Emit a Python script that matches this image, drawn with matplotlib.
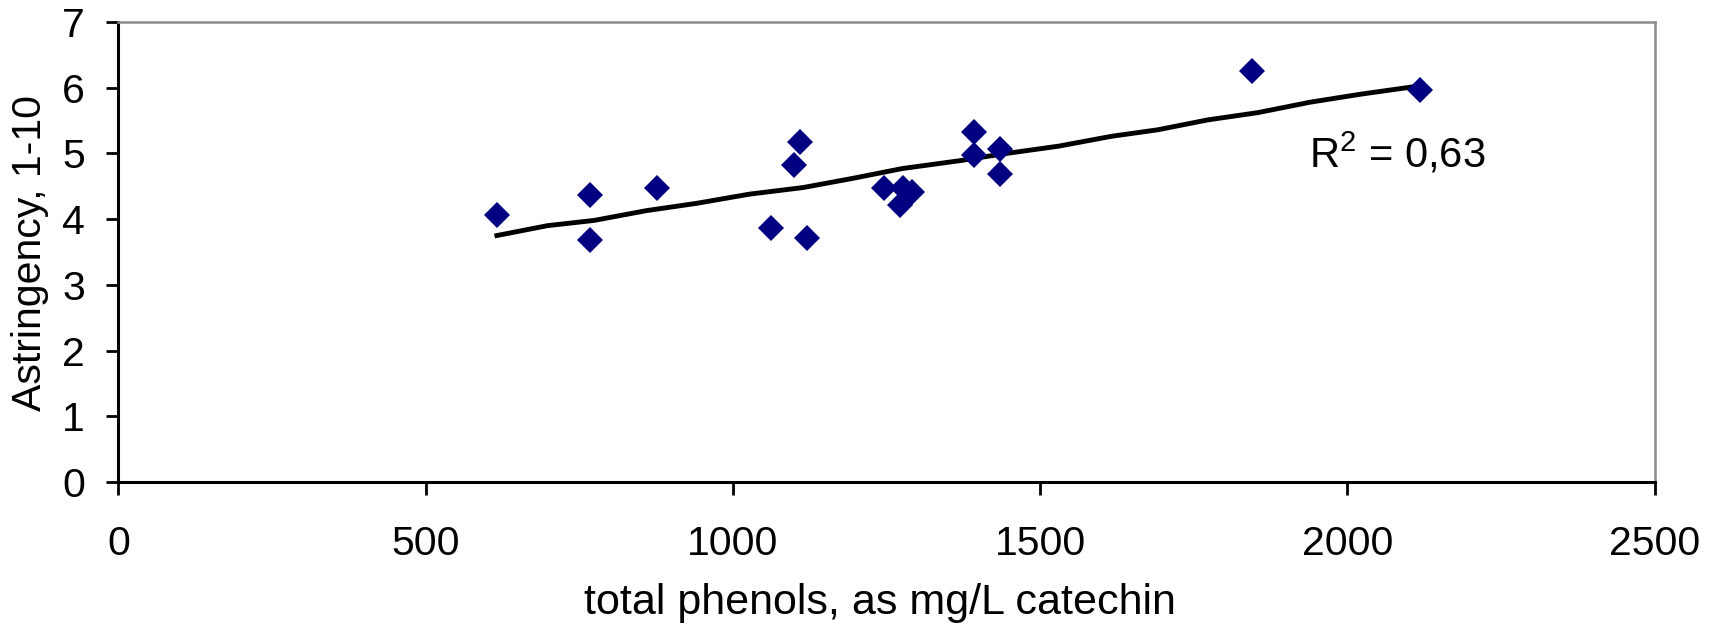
import matplotlib
matplotlib.use("Agg")
import matplotlib.pyplot as plt

# total phenols (mg/L catechin) and astringency scores
phenols = [616, 768, 768, 877, 1062, 1099, 1110, 1120, 1246, 1277,
           1292, 1272, 1392, 1392, 1434, 1434, 1845, 2118]
astringency = [4.07, 4.37, 3.68, 4.48, 3.87, 4.83, 5.17, 3.72, 4.48, 4.48,
               4.42, 4.21, 5.32, 4.97, 5.06, 4.68, 6.26, 5.96]

# hand-drawn looking trend line vertices
trend_x = [616, 698, 774, 860, 941, 1027, 1114, 1195, 1276, 1370,
           1438, 1530, 1616, 1692, 1773, 1854, 1940, 2021, 2112]
trend_y = [3.75, 3.90, 3.98, 4.13, 4.24, 4.38, 4.48, 4.62, 4.77, 4.89,
           4.99, 5.11, 5.26, 5.36, 5.51, 5.62, 5.78, 5.90, 6.02]

x_ticks = [0, 500, 1000, 1500, 2000, 2500]
y_ticks = [0, 1, 2, 3, 4, 5, 6, 7]

plt.rcParams['font.family'] = ['Liberation Sans', 'DejaVu Sans']
plt.rcParams['mathtext.fontset'] = 'custom'
plt.rcParams['mathtext.rm'] = 'Liberation Sans'
plt.rcParams['mathtext.it'] = 'Liberation Sans:italic'

fig = plt.figure(figsize=(17.18, 6.24), dpi=100)
ax = fig.add_axes([0.0689, 0.2276, 0.8942, 0.7372])

ax.plot(phenols, astringency, linestyle='none', marker='D', markersize=13.5,
        color='#000080', markeredgewidth=0, zorder=3)
ax.plot(trend_x, trend_y, color='black', linewidth=3.5, zorder=2)

ax.set_xlim(0, 2500)
ax.set_ylim(0, 7)
ax.set_xticks(x_ticks)
ax.set_yticks(y_ticks)
ax.tick_params(axis='both', labelsize=29.5, direction='out', width=2.0, color='black')
ax.tick_params(axis='x', length=9, pad=22)
ax.tick_params(axis='y', length=8.5, pad=15.5)

for side in ['left', 'bottom']:
    ax.spines[side].set_linewidth(2.2)
    ax.spines[side].set_color('black')
for side in ['top', 'right']:
    ax.spines[side].set_linewidth(1.8)
    ax.spines[side].set_color('#8c8c8c')

ax.set_xlabel('total phenols, as mg/L catechin', fontsize=31)
ax.set_ylabel('Astringency, 1-10', fontsize=29.5)
ax.xaxis.set_label_coords(0.496, -0.219)
ax.yaxis.set_label_coords(-0.045, 0.497)

ax.text(1937, 4.78, r'R$^{2}$ = 0,63', fontsize=30, va='baseline', ha='left')

fig.savefig('out.png', dpi=100)
